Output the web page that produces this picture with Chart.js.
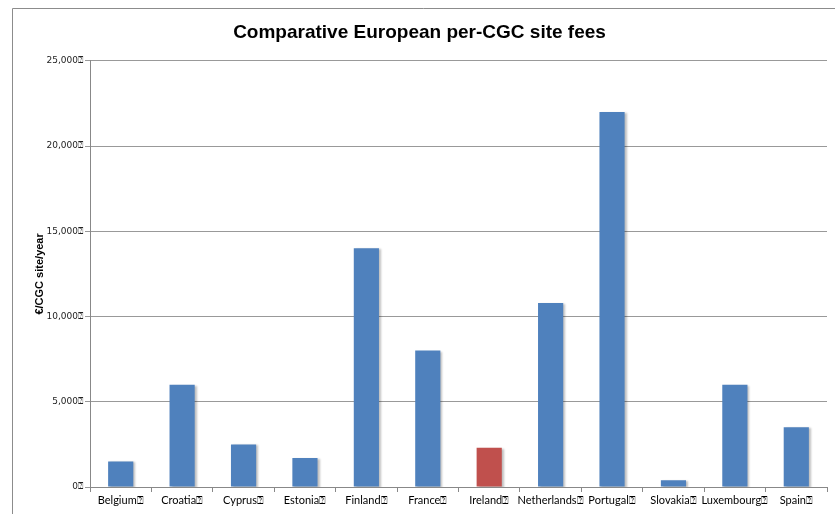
<!DOCTYPE html>
<html>
<head>
<meta charset="utf-8">
<script src="https://cdn.jsdelivr.net/npm/chart.js@4"></script>
<style>
  html, body { margin: 0; padding: 0; background: #fff; }
  #wrap { width: 835px; height: 514px; }
</style>
</head>
<body>
<div id="wrap"><canvas id="feeChart" width="835" height="514"></canvas></div>
<script>
// per-CGC site fees, euro per year
var countries = ['Belgium', 'Croatia', 'Cyprus', 'Estonia', 'Finland', 'France', 'Ireland',
    'Netherlands', 'Portugal', 'Slovakia', 'Luxembourg', 'Spain'];
var fees = [1500, 6000, 2500, 1700, 14000, 8000, 2300, 10800, 22000, 400, 6000, 3500];
var yTicks = [0, 5000, 10000, 15000, 20000, 25000];
var mark = '\u2370';

var blue = '#4F81BD';
var red = '#C0504D';
var barColors = countries.map(function (c) { return c == 'Ireland' ? red : blue; });

// outer frame lines (left and top) plus a soft bar shadow
var framePlugin = {
    id: 'frame',
    beforeDraw: function (chart) {
        var ctx = chart.ctx;
        ctx.save();
        ctx.strokeStyle = '#8c8c8c';
        ctx.lineWidth = 1;
        ctx.beginPath();
        ctx.moveTo(12.5, 514);
        ctx.lineTo(12.5, 8.5);
        ctx.lineTo(835, 8.5);
        ctx.stroke();
        ctx.restore();
    },
    beforeDatasetsDraw: function (chart) {
        var ctx = chart.ctx;
        ctx.save();
        ctx.shadowColor = 'rgba(0,0,0,0.25)';
        ctx.shadowOffsetX = 2;
        ctx.shadowOffsetY = 1;
        ctx.shadowBlur = 2;
    },
    afterDatasetsDraw: function (chart) {
        chart.ctx.restore();
    }
};

new Chart(document.getElementById('feeChart').getContext('2d'), {
    type: 'bar',
    data: {
        labels: countries.map(function (c) { return c + mark; }),
        datasets: [{
            label: 'fees',
            data: fees,
            backgroundColor: barColors,
            barPercentage: 0.41,
            categoryPercentage: 1
        }]
    },
    options: {
        responsive: false,
        animation: false,
        layout: { padding: { left: 12, right: 8, top: 0, bottom: 0 } },
        plugins: {
            legend: { display: false },
            tooltip: { enabled: false },
            title: {
                display: true,
                text: 'Comparative European per-CGC site fees',
                color: '#000',
                font: { family: 'Liberation Sans', size: 19, weight: 'bold' },
                padding: { top: 21, bottom: 17 }
            }
        },
        scales: {
            x: {
                grid: { display: true, drawOnChartArea: false, color: '#888', tickLength: 5 },
                border: { color: '#888' },
                ticks: {
                    color: '#000',
                    font: { family: 'Lato', size: 11 },
                    padding: 2,
                    maxRotation: 0,
                    autoSkip: false
                },
                afterFit: function (axis) { axis.height = 27; }
            },
            y: {
                min: 0,
                max: 25000,
                afterBuildTicks: function (axis) {
                    axis.ticks = yTicks.map(function (v) { return { value: v }; });
                },
                grid: { color: '#999', tickLength: 5 },
                border: { color: '#888' },
                ticks: {
                    color: '#222',
                    font: { family: 'DejaVu Sans', size: 9 },
                    padding: 2,
                    callback: function (v) { return v.toLocaleString('en-US') + mark; }
                },
                title: {
                    display: true,
                    text: '€/CGC site/year',
                    color: '#000',
                    font: { family: 'Liberation Sans', size: 11, weight: 'bold' },
                    padding: { top: 21, bottom: 0 }
                },
                afterFit: function (axis) { axis.width = 78; }
            }
        }
    },
    plugins: [framePlugin]
});
</script>
</body>
</html>
